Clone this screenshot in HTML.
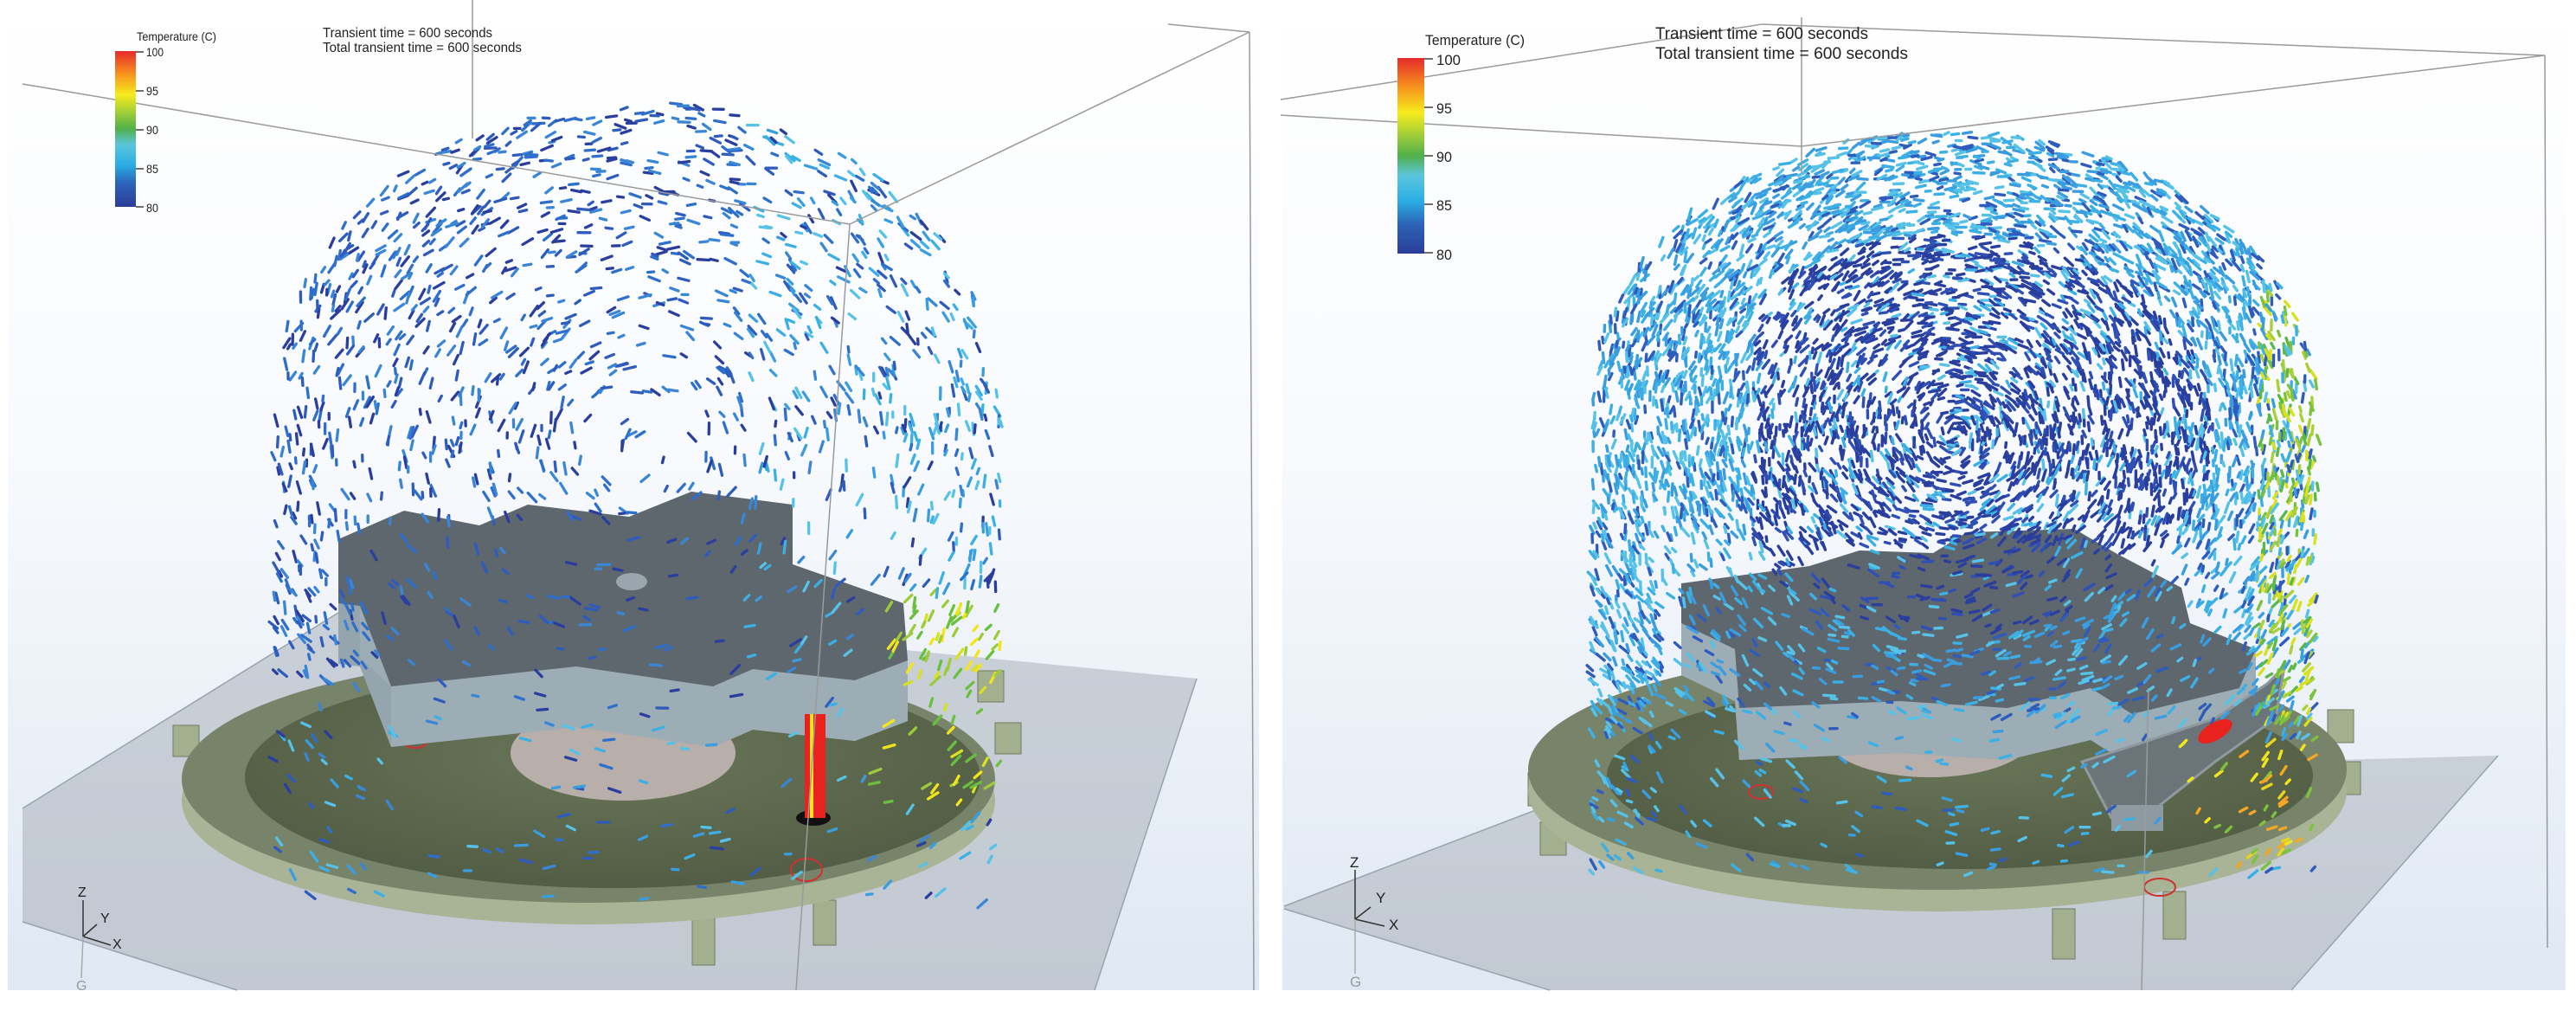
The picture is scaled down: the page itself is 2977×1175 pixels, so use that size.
<!DOCTYPE html>
<html><head><meta charset="utf-8">
<style>
html,body{margin:0;padding:0;background:#fff;}
svg{display:block;}
text{font-family:"Liberation Sans",sans-serif;fill:#222;}
</style></head>
<body>
<svg id="s" width="2977" height="1175" viewBox="0 0 2977 1175" xmlns="http://www.w3.org/2000/svg">
<defs>
<linearGradient id="bg" x1="0" y1="0" x2="0" y2="1">
<stop offset="0" stop-color="#ffffff"/><stop offset="0.45" stop-color="#f8fafd"/><stop offset="1" stop-color="#dfe8f3"/>
</linearGradient>
<linearGradient id="leg" x1="0" y1="1" x2="0" y2="0">
<stop offset="0" stop-color="#2b3d98"/><stop offset="0.15" stop-color="#2c63b8"/><stop offset="0.27" stop-color="#2aaee5"/>
<stop offset="0.4" stop-color="#5cc5dc"/><stop offset="0.5" stop-color="#50b04a"/><stop offset="0.6" stop-color="#9ccc3a"/>
<stop offset="0.72" stop-color="#f6ec1c"/><stop offset="0.85" stop-color="#f7941d"/><stop offset="1" stop-color="#e52a2a"/>
</linearGradient>
<linearGradient id="floor" x1="0" y1="0" x2="0" y2="1">
<stop offset="0" stop-color="#c9d0d8"/><stop offset="1" stop-color="#c2c9d2"/>
</linearGradient>
<radialGradient id="dish" cx="0.5" cy="0.4" r="0.6">
<stop offset="0" stop-color="#6a7658"/><stop offset="1" stop-color="#525d45"/>
</radialGradient>
</defs>

<rect x="9" y="0" width="1446" height="1144" fill="url(#bg)"/>
<rect x="1482" y="0" width="1483" height="1144" fill="url(#bg)"/>

<!-- LEFT PANEL -->
<g id="left">
<polygon points="26,934 420,690 1383,784 1265,1144 274,1144 26,1065" fill="url(#floor)"/>
<line x1="26" y1="934" x2="420" y2="690" stroke="#9aa3ad" stroke-width="1.5"/>
<line x1="1383" y1="784" x2="1265" y2="1144" stroke="#9aa3ad" stroke-width="1.5"/>
<line x1="26" y1="1065" x2="274" y2="1144" stroke="#9aa3ad" stroke-width="1.5"/>
<g fill="#a3b090" stroke="#6f7b60" stroke-width="1">
<rect x="200" y="838" width="30" height="36"/><rect x="218" y="905" width="30" height="36"/>
<rect x="800" y="1060" width="26" height="55"/><rect x="940" y="1040" width="26" height="52"/>
<rect x="1130" y="775" width="30" height="36"/><rect x="1150" y="835" width="30" height="36"/>
</g>
<ellipse cx="680" cy="925" rx="470" ry="143" fill="#a8b495"/>
<ellipse cx="680" cy="900" rx="470" ry="143" fill="#77846a"/>
<ellipse cx="708" cy="898" rx="425" ry="128" fill="url(#dish)"/>
<ellipse cx="720" cy="870" rx="130" ry="55" fill="#b8aeaa"/>
<ellipse cx="480" cy="855" rx="14" ry="9" fill="none" stroke="#d03030" stroke-width="2"/>
<ellipse cx="932" cy="1005" rx="18" ry="13" fill="none" stroke="#d03030" stroke-width="2"/>
<ellipse cx="940" cy="945" rx="20" ry="9" fill="#111"/>
<polygon transform="translate(0,70)" points="391,623 467,590 554,607 610,583 727,597 799,568 916,583 916,652 1044,697 1049,763 988,786 870,773 824,793 666,770 452,793 416,700 391,697" fill="#95a5ae"/>
<polygon points="391,623 391,697 416,700 416,760 452,793 452,863 666,840 824,863 870,843 988,856 1049,833 1049,763" fill="#9cadb6"/>
<polygon points="391,623 467,590 554,607 610,583 727,597 799,568 916,583 916,652 1044,697 1049,763 988,786 870,773 824,793 666,770 452,793 416,700 391,697" fill="#5e676d"/>
<ellipse cx="730" cy="672" rx="18" ry="10" fill="#9aa6ad"/>
<rect x="930" y="825" width="24" height="120" fill="#e8231f"/>
<rect x="936" y="825" width="4" height="120" fill="#f7e31c"/>
<g id="arrL"></g>
<g stroke="#9a9a9a" stroke-width="1.5" fill="none">
<line x1="26" y1="97" x2="982" y2="259"/>
<line x1="982" y1="259" x2="1444" y2="37"/>
<line x1="1350" y1="28" x2="1444" y2="37"/>
<line x1="1444" y1="37" x2="1449" y2="1144"/>
<line x1="982" y1="259" x2="920" y2="1144"/>
<line x1="546" y1="0" x2="546" y2="160"/>
</g>
<g stroke="#333" stroke-width="1.5" fill="none">
<line x1="96" y1="1040" x2="96" y2="1082"/>
<line x1="96" y1="1082" x2="112" y2="1068"/>
<line x1="96" y1="1082" x2="128" y2="1092"/>
<line x1="96" y1="1082" x2="94" y2="1130" stroke="#aaa"/>
</g>
<text x="90" y="1036" font-size="16">Z</text>
<text x="116" y="1066" font-size="16">Y</text>
<text x="130" y="1096" font-size="16">X</text>
<text x="88" y="1144" font-size="16" style="fill:#999">G</text>
<rect x="133" y="59" width="24" height="180" fill="url(#leg)"/>
<g stroke="#222" stroke-width="1.3">
<line x1="157" y1="60" x2="166" y2="60"/><line x1="157" y1="105" x2="166" y2="105"/><line x1="157" y1="150" x2="166" y2="150"/><line x1="157" y1="195" x2="166" y2="195"/><line x1="157" y1="239" x2="166" y2="239"/>
</g>
<text x="158" y="47" font-size="14" textLength="92" lengthAdjust="spacingAndGlyphs">Temperature (C)</text>
<text x="169" y="65" font-size="14" textLength="20" lengthAdjust="spacingAndGlyphs">100</text>
<text x="169" y="110" font-size="14" textLength="14" lengthAdjust="spacingAndGlyphs">95</text>
<text x="169" y="155" font-size="14" textLength="14" lengthAdjust="spacingAndGlyphs">90</text>
<text x="169" y="200" font-size="14" textLength="14" lengthAdjust="spacingAndGlyphs">85</text>
<text x="169" y="245" font-size="14" textLength="14" lengthAdjust="spacingAndGlyphs">80</text>
<text x="373" y="43" font-size="16" textLength="196" lengthAdjust="spacingAndGlyphs">Transient time = 600 seconds</text>
<text x="373" y="60" font-size="16" textLength="230" lengthAdjust="spacingAndGlyphs">Total transient time = 600 seconds</text>
</g>

<!-- RIGHT PANEL -->
<g id="right">
<polygon points="1484,1047 1869,900 2887,873 2648,1144 1791,1144 1484,1050" fill="url(#floor)"/>
<line x1="1484" y1="1047" x2="1869" y2="900" stroke="#9aa3ad" stroke-width="1.5"/>
<line x1="2887" y1="873" x2="2648" y2="1144" stroke="#9aa3ad" stroke-width="1.5"/>
<line x1="1484" y1="1050" x2="1791" y2="1144" stroke="#9aa3ad" stroke-width="1.5"/>
<g fill="#a3b090" stroke="#6f7b60" stroke-width="1">
<rect x="1766" y="893" width="30" height="38"/><rect x="1780" y="950" width="30" height="38"/>
<rect x="2372" y="1050" width="26" height="58"/><rect x="2500" y="1030" width="26" height="55"/>
<rect x="2690" y="820" width="30" height="38"/><rect x="2700" y="880" width="28" height="38"/>
</g>
<ellipse cx="2239" cy="914" rx="473" ry="139" fill="#a8b495"/>
<ellipse cx="2239" cy="889" rx="473" ry="139" fill="#77846a"/>
<ellipse cx="2265" cy="896" rx="408" ry="108" fill="url(#dish)"/>
<ellipse cx="2230" cy="850" rx="120" ry="48" fill="#b8aeaa"/>
<ellipse cx="2035" cy="915" rx="14" ry="8" fill="none" stroke="#d03030" stroke-width="2"/>
<ellipse cx="2496" cy="1025" rx="18" ry="10" fill="none" stroke="#d03030" stroke-width="2"/>
<polygon transform="translate(0,60)" points="1943,674 2091,654 2149,636 2234,639 2273,615 2397,611 2445,639 2521,679 2531,720 2607,750 2588,795 2464,825 2416,795 2320,818 2196,810 2010,818 2005,750 1943,720" fill="#95a5ae"/>
<polygon points="1943,674 1943,780 2005,810 2010,878 2196,870 2320,878 2416,855 2464,885 2588,855 2607,810 2607,750" fill="#9cadb6"/>
<polygon points="1943,674 2091,654 2149,636 2234,639 2273,615 2397,611 2445,639 2521,679 2531,720 2607,750 2588,795 2464,825 2416,795 2320,818 2196,810 2010,818 2005,750 1943,720" fill="#5e676d"/>
<polygon points="2406,880 2470,860 2560,830 2620,790 2640,770 2630,830 2560,880 2490,935 2440,945" fill="#6b7478" stroke="#8e9aa0" stroke-width="3"/>
<rect x="2440" y="930" width="60" height="30" fill="#8d9aa1"/>
<g id="arrR"></g>
<ellipse cx="2560" cy="845" rx="22" ry="10" fill="#e8231f" transform="rotate(-30 2560 845)"/>
<g stroke="#9a9a9a" stroke-width="1.5" fill="none">
<line x1="1480" y1="115" x2="2036" y2="28"/>
<line x1="1480" y1="133" x2="2082" y2="169"/>
<line x1="2036" y1="28" x2="2941" y2="64"/>
<line x1="2082" y1="169" x2="2941" y2="64"/>
<line x1="2941" y1="64" x2="2944" y2="1095"/>
<line x1="2082" y1="20" x2="2082" y2="200"/>
<line x1="2483" y1="795" x2="2475" y2="1144"/>
</g>
<g stroke="#333" stroke-width="1.5" fill="none">
<line x1="1566" y1="1005" x2="1566" y2="1062"/>
<line x1="1566" y1="1062" x2="1584" y2="1048"/>
<line x1="1566" y1="1062" x2="1600" y2="1070"/>
<line x1="1566" y1="1062" x2="1566" y2="1125" stroke="#aaa"/>
</g>
<text x="1560" y="1002" font-size="17">Z</text>
<text x="1590" y="1043" font-size="17">Y</text>
<text x="1605" y="1074" font-size="17">X</text>
<text x="1560" y="1140" font-size="17" style="fill:#999">G</text>
<rect x="1615" y="67" width="31" height="226" fill="url(#leg)"/>
<g stroke="#222" stroke-width="1.3">
<line x1="1646" y1="68" x2="1656" y2="68"/><line x1="1646" y1="124" x2="1656" y2="124"/><line x1="1646" y1="180" x2="1656" y2="180"/><line x1="1646" y1="236" x2="1656" y2="236"/><line x1="1646" y1="292" x2="1656" y2="292"/>
</g>
<text x="1647" y="52" font-size="17" textLength="115" lengthAdjust="spacingAndGlyphs">Temperature (C)</text>
<text x="1660" y="75" font-size="17" textLength="28" lengthAdjust="spacingAndGlyphs">100</text>
<text x="1660" y="131" font-size="17" textLength="18" lengthAdjust="spacingAndGlyphs">95</text>
<text x="1660" y="187" font-size="17" textLength="18" lengthAdjust="spacingAndGlyphs">90</text>
<text x="1660" y="243" font-size="17" textLength="18" lengthAdjust="spacingAndGlyphs">85</text>
<text x="1660" y="300" font-size="17" textLength="18" lengthAdjust="spacingAndGlyphs">80</text>
<text x="1913" y="45" font-size="19" textLength="246" lengthAdjust="spacingAndGlyphs">Transient time = 600 seconds</text>
<text x="1913" y="68" font-size="19" textLength="292" lengthAdjust="spacingAndGlyphs">Total transient time = 600 seconds</text>
</g>
</svg>
<script>
(function(){
var a=987654321;
function r(){a|=0;a=a+0x6D2B79F5|0;var t=Math.imul(a^a>>>15,1|a);t=t+Math.imul(t^t>>>7,61|t)^t;return((t^t>>>14)>>>0)/4294967296;}
function gen(gid,o){
 var g=document.getElementById(gid),h=[];
 for(var i=0;i<o.n;i++){
  var x=o.x0+r()*(o.x1-o.x0),y=o.y0+r()*(o.y1-o.y0);
  var dx=(x-o.cx)/o.rx;
  if(Math.abs(dx)>1)continue;
  if(y<o.cy){var dy=(y-o.cy)/o.ry;if(dx*dx+dy*dy>1)continue;}
  if(y>o.bot){ if(r()>o.lowp)continue; }
  var rr=Math.sqrt(dx*dx+Math.pow((y-o.vy)/o.ry,2));
  if(r()>o.dens(rr,dx,y,x))continue;
  var ang=Math.atan2(y-o.vy,x-o.vx)+Math.PI/2+(r()-0.5)*0.9;
  var L=o.len*(0.6+r()*0.8);
  var c=o.col(rr,dx,y,x);
  var x2=x+Math.cos(ang)*L,y2=y+Math.sin(ang)*L;
  h.push('<line x1="'+x.toFixed(1)+'" y1="'+y.toFixed(1)+'" x2="'+x2.toFixed(1)+'" y2="'+y2.toFixed(1)+'" stroke="'+c+'"/>');
 }
 g.setAttribute("stroke-width",o.w);g.setAttribute("stroke-linecap","round");
 g.innerHTML=h.join("");
}
var blues=["#2a3e9e","#2f5cbc","#3a86d6","#2f6fcc"],cy=["#3cb0e4","#56c2e8","#3a9de0"];
gen("arrL",{n:7000,x0:315,x1:1160,y0:115,y1:1040,cx:737,cy:470,rx:420,ry:355,bot:780,lowp:0.35,vx:737,vy:520,len:10,w:3.3,
 dens:function(rr,dx,y,x){var f=(y>580&&Math.abs(dx)<0.75)?0.35:1;return f*(0.2+0.3*Math.min(1,rr));},
 col:function(rr,dx,y,x){
  if(x>1010&&y>680&&y<930)return ["#9ccc3a","#f2e51c","#6bbf3f","#d8e020"][Math.floor(r()*4)];
  if(dx>0.3&&r()<0.55)return cy[Math.floor(r()*3)];
  if(y>820&&r()<0.5)return cy[Math.floor(r()*3)];
  return blues[Math.floor(r()*4)];}});
gen("arrR",{n:19000,x0:1840,x1:2680,y0:150,y1:1010,cx:2258,cy:470,rx:420,ry:320,bot:830,lowp:0.25,vx:2258,vy:500,len:9,w:3.4,
 dens:function(rr,dx,y,x){var f=(y>630&&Math.abs(dx)<0.8)?0.3:1;return f*0.55;},
 col:function(rr,dx,y,x){
  if(x>2610&&y>330&&y<830&&r()<0.6)return ["#7cc23e","#a9d038","#5cb84a","#d8e020"][Math.floor(r()*4)];
  if(x>2500&&y>850&&y<1000)return ["#f2e51c","#e8d51c","#f5a623","#7cc23e"][Math.floor(r()*4)];
  if(rr>0.72||dx<-0.55)return r()<0.8?cy[Math.floor(r()*3)]:blues[1];
  return r()<0.8?(r()<0.65?"#2a3e9e":"#2f4fb4"):cy[Math.floor(r()*2)];}});
})();
</script>
</body></html>
